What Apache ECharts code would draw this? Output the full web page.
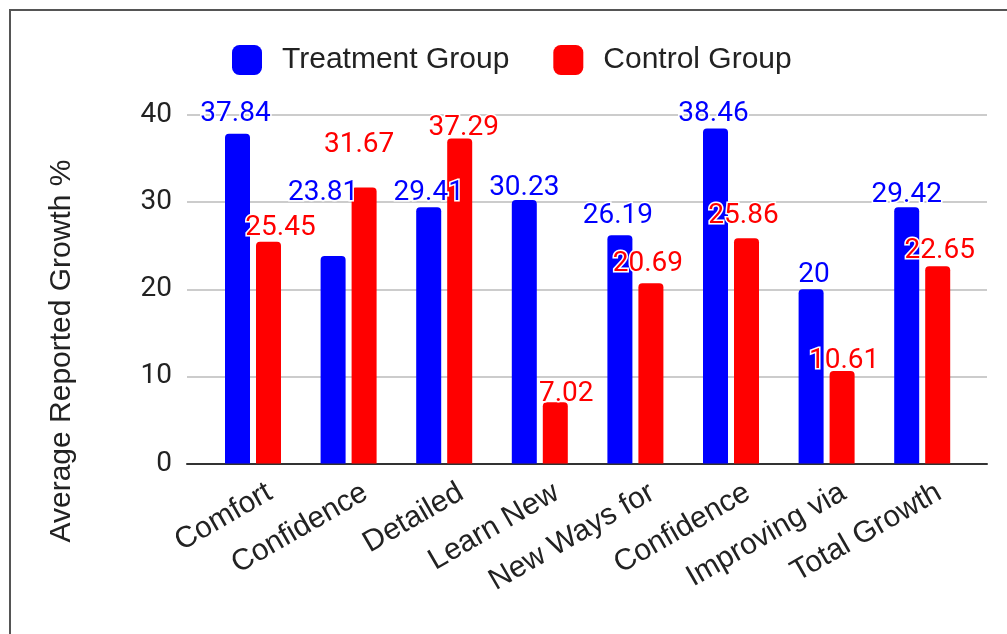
<!DOCTYPE html>
<html>
<head>
<meta charset="utf-8">
<script src="https://cdn.jsdelivr.net/npm/echarts@6/dist/echarts.min.js"></script>
<style>
  html, body { margin: 0; padding: 0; background: #fff; }
  #chart { width: 1007px; height: 634px; }
</style>
</head>
<body>
<div id="chart"></div>
<script>
// ---- data ----
const categories = ['Comfort', 'Confidence', 'Detailed', 'Learn New', 'New Ways for', 'Confidence', 'Improving via', 'Total Growth'];
const seriesNames = ['Treatment Group', 'Control Group'];
const treatment = [37.84, 23.81, 29.41, 30.23, 26.19, 38.46, 20, 29.42];
const control = [25.45, 31.67, 37.29, 7.02, 20.69, 25.86, 10.61, 22.65];
const yMin = 0, yMax = 40, yStep = 10;
const yTitle = 'Average Reported Growth %';

// ---- label nudges (positions only, kept apart from the values) ----
const blueLabelShift = [[-2,-4],[-10,-47],[0,1.5],[0,4],[-2,-3],[-2,2],[3,2],[0,3.5]];
const redLabelShift = [[12,2],[-5,-27],[4,5],[11,8],[-3,-3],[-3,-6],[2,6],[2,1]];

const BLUE = '#0000ff', RED = '#ff0000';
const chart = echarts.init(document.getElementById('chart'), null, { renderer: 'canvas' });

const labelBase = {
  show: true, position: 'top', distance: 2,
  fontFamily: 'Roboto', fontSize: 28,
  textBorderColor: '#fff', textBorderWidth: 3
};

function mk(vals, shifts) {
  return vals.map((v, i) => ({ value: v, label: { offset: shifts[i] } }));
}

const option = {
  backgroundColor: '#fff',
  animation: false,
  legend: {
    left: 232, top: 45, padding: 0,
    itemWidth: 30, itemHeight: 30, itemGap: 44,
    icon: 'roundRect',
    textStyle: { fontFamily: 'Liberation Sans', fontSize: 30, color: '#222', padding: [2, 0, 0, 15] },
    data: seriesNames
  },
  grid: [
    { left: 187, right: 20, top: 115, bottom: 170.5 },   // background: gridlines + y labels + baseline
    { left: 205.2, right: 37, top: 115, bottom: 170.5 }, // bars
    { left: 222, right: 20, top: 115, bottom: 170.5 }    // category labels
  ],
  xAxis: [
    { gridIndex: 0, type: 'category', data: [''], axisLine: { show: true, lineStyle: { color: '#333', width: 2 } },
      axisTick: { show: false }, axisLabel: { show: false }, splitLine: { show: false } },
    { gridIndex: 1, type: 'category', data: categories, axisLine: { show: false },
      axisTick: { show: false }, axisLabel: { show: false } },
    { gridIndex: 2, type: 'category', data: categories, axisLine: { show: false }, axisTick: { show: false },
      axisLabel: { rotate: 30, margin: 27, interval: 0, fontFamily: 'Liberation Sans', fontSize: 30, color: '#222' } }
  ],
  yAxis: [
    { gridIndex: 0, type: 'value', min: yMin, max: yMax, interval: yStep,
      axisLine: { show: false }, axisTick: { show: false },
      axisLabel: { margin: 15, fontFamily: 'Roboto', fontSize: 28, color: '#222' },
      splitLine: { show: true, lineStyle: { color: '#cccccc', width: 2 } } },
    { gridIndex: 1, type: 'value', min: yMin, max: yMax, interval: yStep, show: false, splitLine: { show: false } },
    { gridIndex: 2, type: 'value', min: yMin, max: yMax, interval: yStep, show: false, splitLine: { show: false } }
  ],
  series: [
    { name: seriesNames[0], type: 'bar', xAxisIndex: 1, yAxisIndex: 1,
      barWidth: 25, barGap: '24%', itemStyle: { color: BLUE, borderRadius: [4, 4, 0, 0] },
      label: Object.assign({}, labelBase, { color: BLUE }),
      data: mk(treatment, blueLabelShift) },
    { name: seriesNames[1], type: 'bar', xAxisIndex: 1, yAxisIndex: 1,
      barWidth: 25, barGap: '24%', itemStyle: { color: RED, borderRadius: [4, 4, 0, 0] },
      label: Object.assign({}, labelBase, { color: RED }),
      data: mk(control, redLabelShift) }
  ],
  graphic: [
    { type: 'rect', shape: { x: 10, y: 10, width: 1200, height: 800 },
      style: { fill: 'none', stroke: '#555', lineWidth: 2 }, silent: true },
    { type: 'text', x: 62, y: 351, rotation: Math.PI / 2,
      style: { text: yTitle, fontFamily: 'Liberation Sans', fontSize: 30, fill: '#222',
               align: 'center', verticalAlign: 'middle' } }
  ]
};
chart.setOption(option);
</script>
</body>
</html>
